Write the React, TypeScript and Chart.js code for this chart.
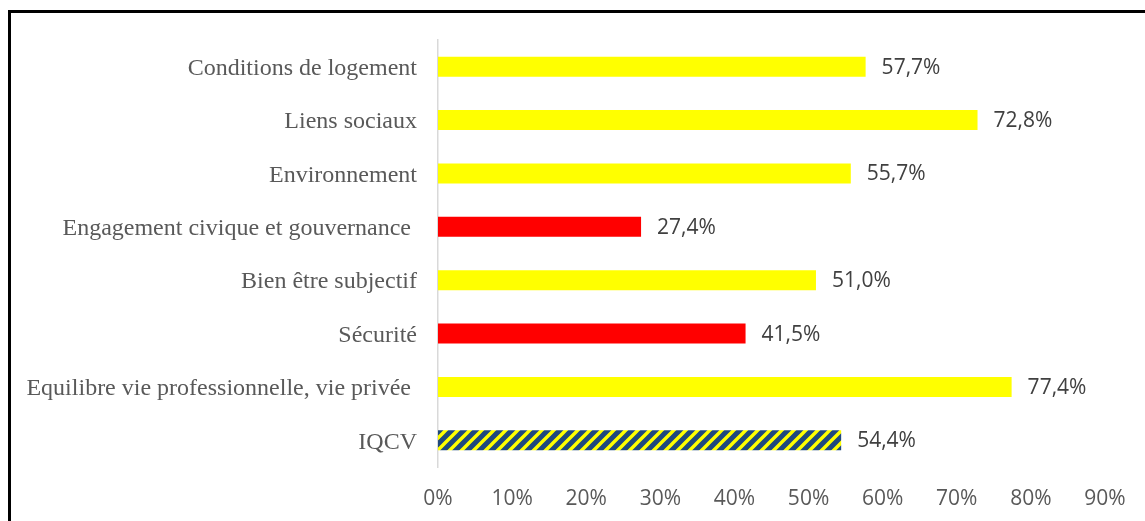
import React, { useEffect, useRef } from "react";
import { Chart, registerables } from "chart.js";

Chart.register(...registerables);

const categories = [
  "Conditions de logement",
  "Liens sociaux",
  "Environnement",
  "Engagement civique et gouvernance ",
  "Bien être subjectif",
  "Sécurité",
  "Equilibre vie professionnelle, vie privée ",
  "IQCV",
];
const values = [57.7, 72.8, 55.7, 27.4, 51.0, 41.5, 77.4, 54.4];
const barKinds = ["yellow", "yellow", "yellow", "red", "yellow", "red", "yellow", "hatch"];
const xTicks = [0, 10, 20, 30, 40, 50, 60, 70, 80, 90];

const YELLOW = "#FFFF00";
const RED = "#FF0000";
const NAVY = "#1F497D";

function makeHatch(): CanvasPattern | string {
  const c = document.createElement("canvas");
  const s = 12;
  c.width = s;
  c.height = s;
  const g = c.getContext("2d");
  if (!g) return NAVY;
  g.fillStyle = NAVY;
  g.fillRect(0, 0, s, s);
  g.strokeStyle = YELLOW;
  g.lineWidth = 3.4;
  g.beginPath();
  g.moveTo(-s, s * 2);
  g.lineTo(s * 2, -s);
  g.moveTo(-s, s);
  g.lineTo(s, -s);
  g.moveTo(0, s * 2);
  g.lineTo(s * 2, 0);
  g.stroke();
  const p = g.createPattern(c, "repeat");
  return p || NAVY;
}

const dataLabelPlugin = {
  id: "dataLabels",
  afterDatasetsDraw(chart: any) {
    const ctx = chart.ctx;
    const meta = chart.getDatasetMeta(0);
    ctx.save();
    ctx.font = "21px 'Open Sans'";
    ctx.fillStyle = "#404040";
    ctx.textAlign = "left";
    ctx.textBaseline = "middle";
    meta.data.forEach((bar: any, i: number) => {
      const txt = values[i].toFixed(1).replace(".", ",") + "%";
      ctx.fillText(txt, bar.x + 16, bar.y + 1);
    });
    ctx.restore();
  },
};

export default function App() {
  const ref = useRef<HTMLCanvasElement | null>(null);
  useEffect(() => {
    if (!ref.current) return;
    const hatch = makeHatch();
    const colors = barKinds.map((k) => (k === "yellow" ? YELLOW : k === "red" ? RED : hatch));
    const chart = new Chart(ref.current, {
      type: "bar",
      data: {
        labels: categories,
        datasets: [
          {
            data: values,
            backgroundColor: colors as any,
            borderWidth: 0,
            categoryPercentage: 1,
            barPercentage: 0.375,
          },
        ],
      },
      options: {
        indexAxis: "y",
        animation: false,
        responsive: false,
        maintainAspectRatio: false,
        layout: { padding: { top: 40, right: 40, left: 0, bottom: 0 } },
        plugins: {
          legend: { display: false },
          tooltip: { enabled: false },
          title: { display: false },
        },
        scales: {
          x: {
            min: 0,
            max: 90,
            afterBuildTicks: (scale: any) => {
              scale.ticks = xTicks.map((v) => ({ value: v }));
            },
            afterFit: (scale: any) => {
              scale.height = 521 - 467;
            },
            grid: { display: false, drawTicks: false },
            border: { display: false },
            ticks: {
              padding: 19,
              color: "#595959",
              font: { family: "'Open Sans'", size: 21 },
              callback: (v: any) => v + "%",
            },
          },
          y: {
            afterFit: (scale: any) => {
              scale.width = 438;
            },
            grid: { display: false, drawTicks: false },
            border: { display: true, color: "#D9D9D9", width: 1.5 },
            ticks: {
              padding: 21,
              labelOffset: 2,
              color: "#595959",
              font: { family: "'Liberation Serif'", size: 24 },
            },
          },
        },
      },
      plugins: [dataLabelPlugin],
    });
    return () => chart.destroy();
  }, []);

  return (
    <div style={{ position: "fixed", left: 0, top: 0, width: 1145, height: 521, background: "#fff" }}>
      <div
        style={{
          position: "absolute",
          left: 8,
          top: 10,
          width: 1145,
          height: 530,
          borderTop: "3px solid #000",
          borderLeft: "3px solid #000",
          boxSizing: "border-box",
        }}
      />
      <canvas
        ref={ref}
        width={1145}
        height={521}
        style={{ position: "absolute", left: 0, top: 0, width: 1145, height: 521 }}
      />
    </div>
  );
}
